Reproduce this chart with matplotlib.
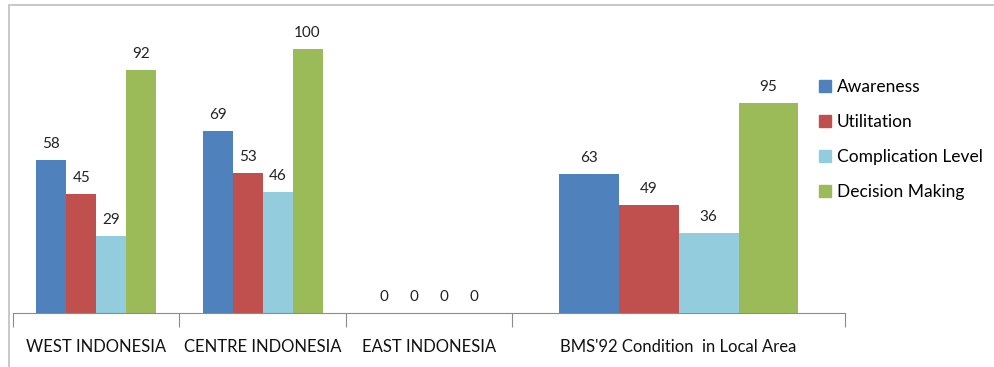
import numpy as np
import matplotlib
import matplotlib.pyplot as plt
from matplotlib.patches import Rectangle

matplotlib.use('Agg')

# data
categories = ["WEST INDONESIA", "CENTRE INDONESIA", "EAST INDONESIA",
              "BMS'92 Condition  in Local Area"]
series_names = ["Awareness", "Utilitation", "Complication Level", "Decision Making"]
awareness = [58, 69, 0, 63]
utilitation = [45, 53, 0, 49]
complication = [29, 46, 0, 36]
decision = [92, 100, 0, 95]

colors = ["#4F81BD", "#C0504D", "#93CDDD", "#9BBB59"]
text_font = ['Lato', 'DejaVu Sans']

# the last category is a separate chart pasted wider, with its own y scale
spans = [1, 1, 1, 2]
edges = np.concatenate([[0], np.cumsum(spans)])
centers = (edges[:-1] + edges[1:]) / 2

fig = plt.figure(figsize=(9.95, 3.67), dpi=100)
fig.patches.append(Rectangle((9 / 995, -0.05), 1.2, (367 - 5) / 367 + 0.05,
                             transform=fig.transFigure, fill=False,
                             edgecolor="#BFBFBF", linewidth=1.2))

ax = fig.add_axes((13 / 995, 54 / 367, 832 / 995, 293 / 367))
ax2 = ax.twinx()

series = [awareness, utilitation, complication, decision]
bar_w = 0.18

for i, c in enumerate(categories):
    w = bar_w * spans[i]
    target = ax if i < 3 else ax2
    for j, vals in enumerate(series):
        x = centers[i] + (j - 1.5) * w
        target.bar(x, vals[i], width=w, color=colors[j], linewidth=0)
        target.annotate(str(vals[i]), (x, vals[i]), xytext=(0, 11.5),
                        textcoords='offset points', ha='center', va='center',
                        fontsize=11, family=text_font, color="#222222")

ax.set_xlim(0, edges[-1])
ax.set_ylim(0, 111)
ax2.set_ylim(0, 132.6)

for a in (ax, ax2):
    for s in ('top', 'right', 'left'):
        a.spines[s].set_visible(False)
    a.set_yticks([])
ax2.spines['bottom'].set_visible(False)
ax.spines['bottom'].set_color("#8C8C8C")

ax.set_xticks(edges)
ax.set_xticklabels([])
ax.tick_params(axis='x', length=10, color="#8C8C8C", direction='out')
ax.set_xticks(centers, minor=True)
ax.set_xticklabels(categories, minor=True, fontsize=12, family=text_font,
                   color="#111111")
ax.tick_params(axis='x', which='minor', length=0, pad=19)

handles = [Rectangle((0, 0), 1, 1, color=col) for col in colors]
fig.legend(handles, series_names, loc='upper left',
           bbox_to_anchor=(819 / 995, (367 - 79) / 367),
           frameon=False, prop={'family': text_font, 'size': 12.5},
           handlelength=0.69, handleheight=0.69, handletextpad=0.35,
           labelspacing=1.1, borderpad=0, borderaxespad=0)

fig.savefig("out.png", dpi=100)
